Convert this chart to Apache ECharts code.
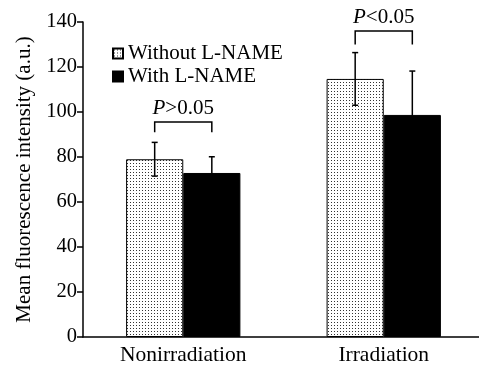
<!DOCTYPE html>
<html>
<head>
<meta charset="utf-8">
<script src="https://cdn.jsdelivr.net/npm/echarts@6/dist/echarts.min.js"></script>
<style>
  html, body { margin: 0; padding: 0; background: #fff; }
  #chart { width: 479px; height: 367px; }
</style>
</head>
<body>
<div id="chart"></div>
<script>
const categories = ['Nonirradiation', 'Irradiation'];
const seriesNames = ['Without L-NAME', 'With L-NAME'];
const withoutMeans = [79, 114.7];
const withoutErr = [7.5, 11.7];
const withMeans = [72.9, 98.7];
const withErr = [7.2, 19.5];
// significance brackets: top of bracket, bottom of its feet
const bracketTop = [95.6, 136];
const bracketFoot = [91, 130];
const pSigns = ['>0.05', '<0.05'];
const yTicks = [0, 20, 40, 60, 80, 100, 120, 140];

const FONT = '"Liberation Serif", "Times New Roman", serif';

document.addEventListener("DOMContentLoaded", function () {
    const chart = echarts.init(document.getElementById('chart'));

    // dotted fill
    const pat = document.createElement('canvas');
    pat.width = 3; pat.height = 3;
    const ctx = pat.getContext('2d');
    ctx.fillStyle = '#fff';
    ctx.fillRect(0, 0, 3, 3);
    ctx.fillStyle = '#333';
    ctx.fillRect(1, 1, 1, 1);
    const dotted = { image: pat, repeat: 'repeat' };

    const barFrac = 0.285;

    function errorSeries(means, errs, side) {
        return {
            type: 'custom',
            silent: true,
            z: 5,
            data: means.map((m, i) => [i, m, errs[i]]),
            renderItem: function (params, api) {
                const band = api.size([1, 0])[0];
                const x = api.coord([api.value(0), 0])[0] + side * band * barFrac / 2;
                const yHi = api.coord([0, api.value(1) + api.value(2)])[1];
                const yLo = api.coord([0, api.value(1) - api.value(2)])[1];
                const st = { stroke: '#000', lineWidth: 1.5 };
                return {
                    type: 'group',
                    children: [
                        { type: 'line', shape: { x1: x, y1: yLo, x2: x, y2: yHi }, style: st },
                        { type: 'line', shape: { x1: x - 3, y1: yHi, x2: x + 3, y2: yHi }, style: st },
                        { type: 'line', shape: { x1: x - 3, y1: yLo, x2: x + 3, y2: yLo }, style: st }
                    ]
                };
            }
        };
    }

    const option = {
        animation: false,
        grid: { left: 83, width: 401, top: 22, bottom: 30, outerBoundsMode: 'none', containLabel: false },
        legend: {
            orient: 'vertical',
            left: 107,
            top: 38,
            icon: 'rect',
            itemWidth: 10,
            itemHeight: 10,
            itemGap: 2,
            textStyle: { fontFamily: FONT, fontSize: 21, color: '#000' },
            data: seriesNames
        },
        xAxis: {
            type: 'category',
            data: categories,
            axisLine: { lineStyle: { color: '#000', width: 1.5 } },
            axisTick: { inside: true, length: 7, lineStyle: { color: '#000', width: 1.5 } },
            axisLabel: { fontFamily: FONT, fontSize: 21.5, color: '#000', margin: 7 }
        },
        yAxis: {
            type: 'value',
            min: yTicks[0],
            max: yTicks[yTicks.length - 1],
            interval: yTicks[1] - yTicks[0],
            name: 'Mean fluorescence intensity (a.u.)',
            nameLocation: 'middle',
            nameGap: 46,
            nameTextStyle: { fontFamily: FONT, fontSize: 21, color: '#000' },
            axisLine: { show: true, lineStyle: { color: '#000', width: 1.5 } },
            axisTick: { show: true, length: 6, lineStyle: { color: '#000', width: 1.5 } },
            axisLabel: { fontFamily: FONT, fontSize: 20.5, color: '#000', margin: 6 },
            splitLine: { show: false }
        },
        series: [
            {
                name: seriesNames[0],
                type: 'bar',
                data: withoutMeans,
                barWidth: (barFrac * 100) + '%',
                barGap: '0%',
                itemStyle: { color: dotted, borderColor: '#000', borderWidth: 1 }
            },
            {
                name: seriesNames[1],
                type: 'bar',
                data: withMeans,
                barWidth: (barFrac * 100) + '%',
                barGap: '0%',
                itemStyle: { color: '#000', borderColor: '#000', borderWidth: 1 }
            },
            errorSeries(withoutMeans, withoutErr, -1),
            errorSeries(withMeans, withErr, 1),
            {
                type: 'custom',
                silent: true,
                z: 6,
                data: bracketTop.map((t, i) => [i, t, bracketFoot[i]]),
                renderItem: function (params, api) {
                    const band = api.size([1, 0])[0];
                    const xc = api.coord([api.value(0), 0])[0];
                    const xl = xc - band * barFrac / 2;
                    const xr = xc + band * barFrac / 2;
                    const yt = api.coord([0, api.value(1)])[1];
                    const yf = api.coord([0, api.value(2)])[1];
                    const st = { stroke: '#000', lineWidth: 1.5, fill: null };
                    return {
                        type: 'group',
                        children: [
                            { type: 'polyline', shape: { points: [[xl, yf], [xl, yt], [xr, yt], [xr, yf]] }, style: st },
                            {
                                type: 'text',
                                style: {
                                    x: xc, y: yt - 3,
                                    align: 'center', verticalAlign: 'bottom',
                                    text: '{i|P}{n|' + pSigns[params.dataIndex] + '}',
                                    rich: {
                                        i: { fontFamily: FONT, fontSize: 21, fontStyle: 'italic', fill: '#000' },
                                        n: { fontFamily: FONT, fontSize: 21, fill: '#000' }
                                    }
                                }
                            }
                        ]
                    };
                }
            }
        ]
    };
    chart.setOption(option);
    window.addEventListener('resize', () => chart.resize());
});
</script>
</body>
</html>
